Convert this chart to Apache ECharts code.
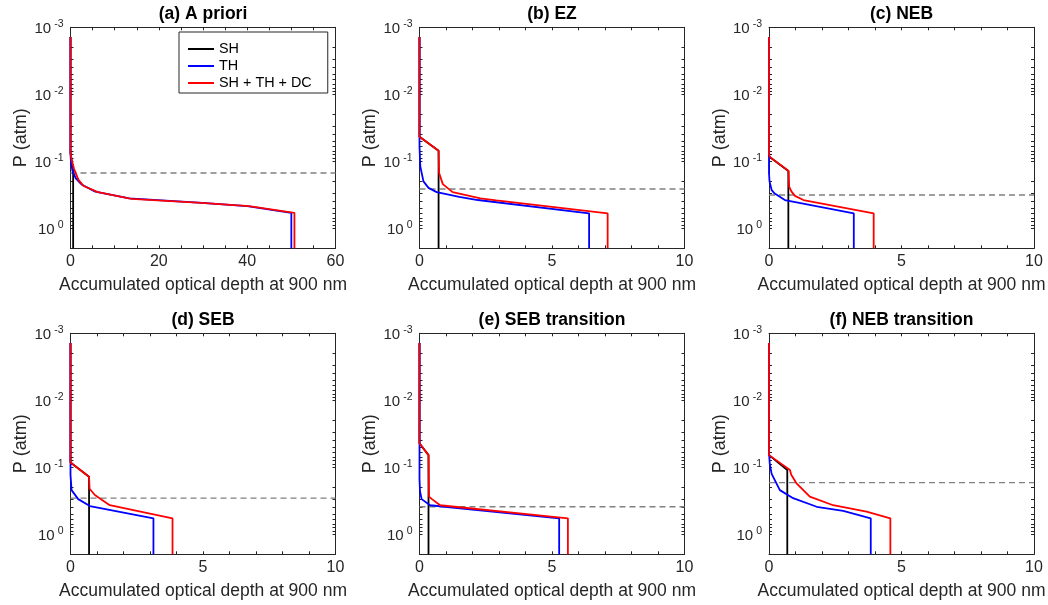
<!DOCTYPE html>
<html>
<head>
<meta charset="utf-8">
<script src="https://cdn.jsdelivr.net/npm/echarts@6/dist/echarts.min.js"></script>
<style>
  html, body { margin: 0; padding: 0; background: #ffffff; }
  #chart { width: 1048px; height: 605px; }
</style>
</head>
<body>
<div id="chart"></div>
<script>
// Panel titles and axis set-up
const panelTitles = ['(a) A priori', '(b) EZ', '(c) NEB', '(d) SEB', '(e) SEB transition', '(f) NEB transition'];
const tauMax = [60, 10, 10, 10, 10, 10];
const tauLabelStep = [20, 5, 5, 5, 5, 5];
const tauTickStep = [5, 1, 1, 1, 1, 1];
const pressureRange = [0.001, 2];
const seriesNames = ['SH', 'TH', 'SH + TH + DC'];

// Pressure level of the dashed line in each panel (atm)
const dashedLevel = [0.15, 0.26, 0.32, 0.29, 0.39, 0.17];

// Accumulated optical depth profiles: [tau, P (atm)]
const shAPriori  = [[0, 0.0014], [0, 0.075], [0.6, 0.13], [0.6, 2]];
const thAPriori  = [[0, 0.0014], [0, 0.08], [0.12, 0.105], [0.45, 0.14], [1.2, 0.18], [2.6, 0.225], [5.6, 0.285], [13.3, 0.36], [29, 0.415], [40, 0.47], [50.0, 0.59], [50.0, 2]];
const totAPriori = [[0, 0.0014], [0, 0.075], [0.25, 0.095], [0.8, 0.13], [1.8, 0.19], [3.0, 0.235], [6.2, 0.29], [13.8, 0.365], [29.6, 0.42], [40.4, 0.47], [50.7, 0.59], [50.7, 2]];

const shEZ  = [[0, 0.0014], [0, 0.043], [0.72, 0.07], [0.72, 2]];
const thEZ  = [[0, 0.0014], [0, 0.06], [0.03, 0.12], [0.15, 0.2], [0.34, 0.25], [0.65, 0.29], [1.5, 0.34], [2.2, 0.38], [6.4, 0.6], [6.4, 2]];
const totEZ = [[0, 0.0014], [0, 0.043], [0.72, 0.07], [0.74, 0.15], [0.88, 0.22], [1.25, 0.29], [2.3, 0.36], [2.9, 0.385], [7.1, 0.6], [7.1, 2]];

const shNEB  = [[0, 0.0014], [0, 0.085], [0.73, 0.14], [0.73, 2]];
const thNEB  = [[0, 0.0014], [0, 0.15], [0.02, 0.2], [0.1, 0.27], [0.2, 0.3], [0.6, 0.38], [3.2, 0.6], [3.2, 2]];
const totNEB = [[0, 0.0014], [0, 0.08], [0.04, 0.087], [0.74, 0.14], [0.76, 0.24], [0.85, 0.285], [0.98, 0.33], [1.3, 0.38], [3.95, 0.6], [3.95, 2]];

const shSEB  = [[0, 0.0014], [0, 0.085], [0.7, 0.139], [0.7, 2]];
const thSEB  = [[0, 0.0014], [0, 0.13], [0.04, 0.22], [0.29, 0.30], [0.73, 0.38], [3.13, 0.58], [3.13, 2]];
const totSEB = [[0, 0.0014], [0, 0.085], [0.7, 0.139], [0.72, 0.21], [0.92, 0.26], [1.48, 0.37], [3.85, 0.58], [3.85, 2]];

const shSEBt  = [[0, 0.0014], [0, 0.044], [0.34, 0.066], [0.34, 2]];
const thSEBt  = [[0, 0.0014], [0, 0.15], [0.02, 0.23], [0.08, 0.30], [0.4, 0.37], [5.27, 0.58], [5.27, 2]];
const totSEBt = [[0, 0.0014], [0, 0.044], [0.34, 0.066], [0.36, 0.275], [0.47, 0.30], [0.78, 0.37], [5.6, 0.58], [5.6, 2]];

const shNEBt  = [[0, 0.0014], [0, 0.066], [0.69, 0.11], [0.69, 2]];
const thNEBt  = [[0, 0.0014], [0, 0.06], [0.03, 0.09], [0.1, 0.126], [0.41, 0.22], [0.91, 0.29], [1.8, 0.39], [2.8, 0.45], [3.84, 0.58], [3.84, 2]];
const totNEBt = [[0, 0.0014], [0, 0.066], [0.79, 0.11], [0.84, 0.13], [1.04, 0.175], [1.54, 0.275], [2.42, 0.37], [3.68, 0.46], [4.58, 0.58], [4.58, 2]];

const panelProfiles = [
  [shAPriori, thAPriori, totAPriori],
  [shEZ, thEZ, totEZ],
  [shNEB, thNEB, totNEB],
  [shSEB, thSEB, totSEB],
  [shSEBt, thSEBt, totSEBt],
  [shNEBt, thNEBt, totNEBt]
];

// Styling
const FONT = '"Liberation Sans", Arial, Helvetica, sans-serif';
const AXIS_COLOR = '#262626';
const lineColors = ['#000000', '#0000ff', '#ff0000'];
const colLeft = [70.5, 419.5, 769];
const rowTop = [27.3, 333.3];
const plotW = 265;
const plotH = 221;

// axis lines stay on the box edges (never moved to the zero of the other axis)
const axisLine = { show: true, onZero: false, lineStyle: { color: AXIS_COLOR, width: 1 } };
const tickStyle = { show: true, inside: true, length: 3, lineStyle: { color: AXIS_COLOR, width: 1 } };
const minorStyle = { show: true, splitNumber: 9, length: 3, lineStyle: { color: AXIS_COLOR, width: 1 } };

function isDecade(v) {
  const e = Math.log10(v);
  return Math.abs(e - Math.round(e)) < 1e-6;
}

const grids = [], xAxes = [], yAxes = [], series = [];

for (let i = 0; i < 6; i++) {
  const r = Math.floor(i / 3), c = i % 3;
  grids.push({ left: colLeft[c], top: rowTop[r], width: plotW, height: plotH, containLabel: false });

  // bottom axis with labels and name
  xAxes.push({
    type: 'value', gridIndex: i, position: 'bottom', min: 0, max: tauMax[i], interval: tauTickStep[i],
    name: 'Accumulated optical depth at 900 nm', nameLocation: 'middle', nameGap: 28,
    nameTextStyle: { fontFamily: FONT, fontSize: 17.5, color: AXIS_COLOR },
    axisLine: axisLine, splitLine: { show: false }, axisTick: tickStyle,
    axisLabel: {
      margin: 5, fontFamily: FONT, fontSize: 16, color: AXIS_COLOR,
      formatter: v => (Math.abs(v / tauLabelStep[i] - Math.round(v / tauLabelStep[i])) < 1e-9 ? String(v) : '')
    }
  });
  // top axis: mirrored ticks, carries the panel title
  xAxes.push({
    type: 'value', gridIndex: i, position: 'top', min: 0, max: tauMax[i], interval: tauTickStep[i],
    name: panelTitles[i], nameLocation: 'middle', nameGap: 4,
    nameTextStyle: { fontFamily: FONT, fontSize: 17.5, fontWeight: 'bold', color: '#000000' },
    axisLine: axisLine, splitLine: { show: false }, axisTick: tickStyle,
    axisLabel: { show: false }
  });
  // left log axis, inverted (pressure increases downward)
  yAxes.push({
    type: 'log', logBase: 10, gridIndex: i, position: 'left', inverse: true,
    min: pressureRange[0], max: pressureRange[1],
    name: 'P (atm)', nameLocation: 'middle', nameGap: 40, nameRotate: 90,
    nameTextStyle: { fontFamily: FONT, fontSize: 18, color: AXIS_COLOR },
    axisLine: axisLine, splitLine: { show: false }, axisTick: tickStyle, minorTick: minorStyle,
    minorSplitLine: { show: false },
    axisLabel: {
      margin: 7, showMaxLabel: false,
      formatter: v => (isDecade(v) ? '{b|10}{s|' + Math.round(Math.log10(v)) + '}' : ''),
      rich: {
        b: { fontFamily: FONT, fontSize: 15, color: AXIS_COLOR, lineHeight: 18, verticalAlign: 'bottom' },
        s: { fontFamily: FONT, fontSize: 10.5, color: AXIS_COLOR, lineHeight: 11, verticalAlign: 'top', padding: [0, 0, 0, 3] }
      }
    }
  });
  // right log axis: mirrored ticks
  yAxes.push({
    type: 'log', logBase: 10, gridIndex: i, position: 'right', inverse: true,
    min: pressureRange[0], max: pressureRange[1],
    axisLine: axisLine, splitLine: { show: false }, axisTick: tickStyle, minorTick: minorStyle,
    minorSplitLine: { show: false },
    axisLabel: { show: false }
  });

  // dashed pressure level across the panel
  series.push({
    type: 'line', name: 'level', xAxisIndex: 2 * i, yAxisIndex: 2 * i,
    data: [[0, dashedLevel[i]], [tauMax[i], dashedLevel[i]]],
    symbol: 'none', silent: true, z: 1,
    lineStyle: { color: '#808080', width: 1.4, type: [6, 4] }
  });
  // optical depth profiles
  panelProfiles[i].forEach((data, k) => {
    series.push({
      type: 'line', name: seriesNames[k], xAxisIndex: 2 * i, yAxisIndex: 2 * i,
      data: data, symbol: 'none', showSymbol: false, z: 2 + k,
      lineStyle: { color: lineColors[k], width: 1.8 },
      itemStyle: { color: lineColors[k] }
    });
  });
}

const chart = echarts.init(document.getElementById('chart'), null, { renderer: 'canvas' });
chart.setOption({
  animation: false,
  backgroundColor: '#ffffff',
  textStyle: { fontFamily: FONT },
  grid: grids,
  xAxis: xAxes,
  yAxis: yAxes,
  legend: {
    data: seriesNames, orient: 'vertical', left: 179, top: 32,
    icon: 'rect', itemWidth: 26, itemHeight: 2, itemGap: 3,
    padding: [10, 16, 3, 9], backgroundColor: '#ffffff',
    borderColor: AXIS_COLOR, borderWidth: 1, selectedMode: false,
    textStyle: { fontFamily: FONT, fontSize: 14.4, color: '#000000' }
  },
  series: series
});
</script>
</body>
</html>
